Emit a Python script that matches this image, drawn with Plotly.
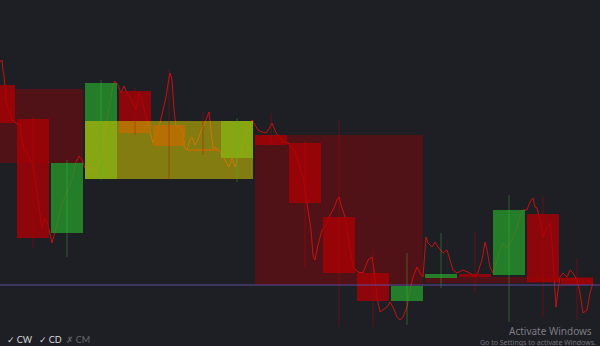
import plotly.graph_objects as go

# ---------------- data ----------------
# lower-timeframe candles (time in chart ticks, prices in points)
candle_time = [-1, 33, 67, 101, 135, 169, 203, 237, 271, 305, 339, 373, 407, 441, 475, 509, 543, 577]
candle_open = [261, 227, 113, 167, 255, 221, 197, 188, 211, 203, 129, 73, 45, 68, 72, 71, 132, 68]
candle_close = [223, 108, 183, 263, 213, 200, 195, 225, 201, 143, 73, 45, 60, 72, 69, 136, 64, 61]
candle_high = [286, 230, 186, 266, 258, 276, 234, 228, 233, 206, 226, 96, 93, 113, 114, 151, 151, 88]
candle_low = [221, 98, 89, 166, 211, 166, 191, 164, 201, 79, 19, 19, 21, 58, 53, 24, 29, 26]

# higher-timeframe candles (each spans 5 lower candles)
htf_time = [-1, 169, 339, 509]
htf_open = [257, 167, 211, 69]
htf_close = [183, 225, 61, 63]
htf_highlight = [False, True, False, False]

# intrabar price path
line_t = [0, 2, 3, 4, 5, 6, 8, 10, 12, 15, 18, 20, 22, 24, 27, 30, 33, 35, 38, 40, 42, 45, 48, 50, 52,
          55, 58, 62, 66, 70, 73, 76, 79, 82, 85, 88, 92, 95, 98, 101, 103, 106, 108, 111, 113, 115,
          118, 121, 124, 127, 130, 133, 136, 139, 142, 145, 148, 150, 153, 156, 160, 163, 166, 169,
          170, 172, 174, 176, 180, 183, 184, 187, 190, 192, 195, 198, 202, 204, 207, 209, 211, 213,
          216, 219, 222, 225, 229, 232, 235, 238, 241, 244, 247, 250, 252, 255, 258, 262, 266, 270,
          272, 274, 276, 280, 283, 288, 291, 294, 298, 300, 303, 305, 307, 309, 311, 313, 315, 318,
          322, 326, 330, 334, 337, 339, 341, 345, 350, 353, 358, 363, 368, 372, 374, 377, 380, 383,
          387, 390, 393, 397, 400, 403, 407, 410, 413, 417, 420, 423, 426, 428, 432, 435, 438, 443,
          447, 450, 453, 457, 463, 470, 475, 478, 482, 485, 487, 490, 493, 497, 500, 503, 506, 510,
          513, 517, 520, 523, 527, 530, 533, 535, 537, 540, 543, 547, 550, 552, 554, 556, 558, 560,
          563, 567, 570, 573, 577, 580, 583, 587, 590, 593]
line_price = [284, 286, 276, 271, 258, 246, 238, 234, 226, 224, 221, 223, 206, 196, 194, 186, 182, 166,
              146, 132, 118, 128, 121, 110, 103, 114, 126, 142, 152, 161, 171, 184, 190, 186, 178, 176,
              179, 174, 181, 188, 206, 221, 233, 248, 262, 265, 261, 253, 260, 253, 249, 243, 236, 254,
              246, 233, 221, 215, 203, 211, 223, 236, 249, 268, 273, 266, 236, 219, 221, 214, 199, 196,
              206, 209, 201, 206, 218, 221, 228, 234, 216, 198, 198, 196, 191, 186, 179, 188, 179, 191,
              189, 206, 213, 219, 226, 221, 216, 214, 213, 219, 223, 218, 213, 209, 204, 203, 199, 196,
              186, 178, 170, 156, 143, 129, 116, 91, 86, 101, 116, 121, 131, 138, 146, 149, 141, 129,
              99, 79, 74, 73, 86, 89, 76, 49, 34, 36, 39, 44, 39, 29, 26, 29, 39, 56, 69, 79, 73, 69,
              109, 103, 99, 104, 99, 93, 96, 86, 76, 73, 76, 73, 69, 74, 86, 104, 96, 79, 73, 86, 96,
              103, 98, 103, 109, 119, 129, 136, 136, 144, 148, 139, 138, 126, 109, 119, 123, 103, 76,
              39, 56, 69, 73, 69, 76, 73, 66, 53, 33, 36, 53, 63]

legend_labels = ["✓ CW", "✓ CD", "✗ CM"]
legend_enabled = [True, True, False]

# ---------------- styles ----------------
BG = "#1e1f24"
BODY_W = 32
HTF_W = 168
RED_BODY = "rgba(172,0,4,0.78)"
GREEN_BODY = "rgba(38,150,42,0.8)"
HTF_RED = "rgba(150,0,8,0.42)"
HTF_YELLOW = "rgba(215,200,0,0.55)"


def rect(xc, w, y0, y1, color, name):
    x0, x1 = xc - w / 2, xc + w / 2
    lo, hi = min(y0, y1), max(y0, y1)
    if hi - lo < 2:
        hi = lo + 2
    return go.Scatter(x=[x0, x1, x1, x0, x0], y=[lo, lo, hi, hi, lo], mode="lines",
                      fill="toself", fillcolor=color, line=dict(width=0, color=color),
                      hoverinfo="skip", showlegend=False, name=name)


fig = go.Figure()

# higher timeframe (dark) boxes below everything
for t, o, c, hl in zip(htf_time, htf_open, htf_close, htf_highlight):
    if not hl:
        fig.add_trace(rect(t, HTF_W, o, c, HTF_RED, "htf"))

# intrabar price line
fig.add_trace(go.Scatter(x=line_t, y=line_price, mode="lines",
                         line=dict(color="rgba(215,15,15,0.9)", width=1),
                         hoverinfo="skip", showlegend=False))

# lower timeframe bodies
for t, o, c in zip(candle_time, candle_open, candle_close):
    col = GREEN_BODY if c > o else RED_BODY
    fig.add_trace(rect(t, BODY_W, o, c, col, "body"))

# highlighted higher timeframe box on top
for t, o, c, hl in zip(htf_time, htf_open, htf_close, htf_highlight):
    if hl:
        fig.add_trace(rect(t, HTF_W, o, c, HTF_YELLOW, "htf_hl"))

# wicks
for up in (True, False):
    xs, ys = [], []
    for t, o, c, h, l in zip(candle_time, candle_open, candle_close, candle_high, candle_low):
        if (c > o) == up:
            xs += [t, t, None]
            ys += [l, h, None]
    fig.add_trace(go.Scatter(x=xs, y=ys, mode="lines",
                             line=dict(color="rgba(60,190,60,0.4)" if up else "rgba(190,0,0,0.4)", width=1),
                             hoverinfo="skip", showlegend=False))

# last price line
fig.add_trace(go.Scatter(x=[-20, 620], y=[candle_close[-1], candle_close[-1]], mode="lines",
                         line=dict(color="rgba(95,80,170,0.9)", width=1),
                         hoverinfo="skip", showlegend=False))

annotations = []
lx = [0.009, 0.061, 0.107]
for lab, en, xx in zip(legend_labels, legend_enabled, lx):
    annotations.append(dict(text=lab, xref="paper", yref="paper", x=xx, y=0.020,
                            xanchor="left", yanchor="middle", showarrow=False,
                            font=dict(family="Lato, DejaVu Sans", size=9,
                                      color="#d8d8d8" if en else "#66666c")))
annotations.append(dict(text="Activate Windows", xref="paper", yref="paper", x=0.99, y=0.044,
                        xanchor="right", yanchor="middle", showarrow=False,
                        font=dict(family="Noto Sans", size=10, color="rgba(190,190,195,0.6)")))
annotations.append(dict(text="Go to Settings to activate Windows.", xref="paper", yref="paper",
                        x=0.997, y=0.011, xanchor="right", yanchor="middle", showarrow=False,
                        font=dict(family="Noto Sans", size=7, color="rgba(190,190,195,0.55)")))

fig.update_layout(
    width=600, height=346,
    margin=dict(l=0, r=0, t=0, b=0),
    paper_bgcolor=BG, plot_bgcolor=BG,
    xaxis=dict(range=[0, 600], visible=False, showgrid=False, zeroline=False),
    yaxis=dict(range=[0, 346], visible=False, showgrid=False, zeroline=False),
    annotations=annotations,
    showlegend=False,
)

fig.write_html("out.html")
